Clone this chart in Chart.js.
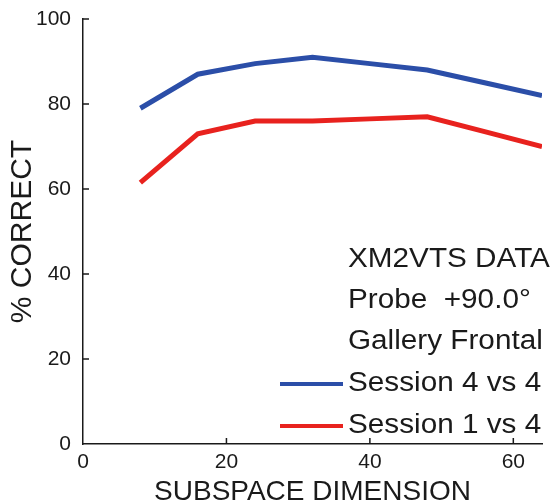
<!DOCTYPE html>
<html>
<head>
<meta charset="utf-8">
<script src="https://cdn.jsdelivr.net/npm/chart.js@4.4.1/dist/chart.umd.min.js"></script>
<style>
  html, body { margin: 0; padding: 0; background: #fff; }
</style>
</head>
<body>
<canvas id="chart" width="552" height="503"></canvas>
<script>
// subspace dimension on x, % correct on y
const dims = [8, 16, 24, 32, 40, 48, 56, 64]
const session44 = [79, 87, 89.5, 91, 89.5, 88, 85, 82]
const session14 = [61.5, 73, 76, 76, 76.5, 77, 73.5, 70]
const xTicks = [0, 20, 40, 60]
const yTicks = [0, 20, 40, 60, 80, 100]
const noteLines = ["XM2VTS DATA", "Probe  +90.0\u00B0", "Gallery Frontal"]
const seriesNames = ["Session 4 vs 4", "Session 1 vs 4"]

const BLUE = "#2b4ea8"
const RED = "#e8221e"
const INK = "#1a1a1a"
const FONT = "'Liberation Sans', Arial, sans-serif"

const toPoints = (ys) => dims.map((d, i) => ({ x: d, y: ys[i] }))

// inward tick marks, text block and legend lines in the lower right
const overlay = {
  id: "overlay",
  afterDraw(chart) {
    const { ctx, scales: { x, y } } = chart
    const x0 = x.getPixelForValue(0)
    const y0 = y.getPixelForValue(0)
    ctx.save()
    ctx.strokeStyle = INK
    ctx.lineWidth = 1.5
    ctx.beginPath()
    yTicks.slice(1).forEach(v => {
      const py = y.getPixelForValue(v)
      ctx.moveTo(x0, py)
      ctx.lineTo(x0 + 6, py)
    })
    xTicks.slice(1).forEach(v => {
      const px = x.getPixelForValue(v)
      ctx.moveTo(px, y0)
      ctx.lineTo(px, y0 - 6)
    })
    ctx.stroke()

    const textX = 348
    const rowY = [260, 301, 342, 384, 426]
    const lines = noteLines.concat(seriesNames)
    ctx.fillStyle = INK
    ctx.font = "27px " + FONT
    ctx.textBaseline = "middle"
    ctx.textAlign = "left"
    lines.forEach((t, i) => {
      ctx.save()
      ctx.translate(textX, rowY[i])
      ctx.scale(1.1, 1)
      ctx.fillText(t, 0, 0)
      ctx.restore()
    })

    ctx.lineWidth = 4
    ;[BLUE, RED].forEach((c, i) => {
      ctx.strokeStyle = c
      ctx.beginPath()
      ctx.moveTo(280, rowY[3 + i])
      ctx.lineTo(343, rowY[3 + i])
      ctx.stroke()
    })
    ctx.restore()
  }
}

new Chart(document.getElementById("chart"), {
  type: "line",
  data: {
    datasets: [
      { label: seriesNames[0], data: toPoints(session44), borderColor: BLUE, borderWidth: 5 },
      { label: seriesNames[1], data: toPoints(session14), borderColor: RED, borderWidth: 5 }
    ]
  },
  options: {
    responsive: false,
    animation: false,
    layout: { padding: { top: 19, right: 10, left: 0, bottom: 0 } },
    elements: { point: { radius: 0 }, line: { tension: 0 } },
    plugins: { legend: { display: false }, tooltip: { enabled: false } },
    scales: {
      x: {
        type: "linear",
        min: 0,
        max: 64,
        afterBuildTicks: s => { s.ticks = xTicks.map(v => ({ value: v })) },
        afterFit: s => { s.height = 59; s.paddingLeft = 0; s.paddingRight = 0 },
        grid: { display: false, drawTicks: false },
        border: { display: true, color: INK, width: 1.5 },
        ticks: { color: INK, font: { family: FONT, size: 21 }, padding: 6, maxRotation: 0 },
        title: {
          display: true,
          text: "SUBSPACE DIMENSION",
          color: INK,
          font: { family: FONT, size: 28, lineHeight: 1 },
          padding: { top: 0, bottom: -3 }
        }
      },
      y: {
        min: 0,
        max: 100,
        afterBuildTicks: s => { s.ticks = yTicks.map(v => ({ value: v })) },
        afterFit: s => { s.width = 83; s.paddingTop = 0; s.paddingBottom = 0 },
        grid: { display: false, drawTicks: false },
        border: { display: true, color: INK, width: 1.5 },
        ticks: { color: INK, font: { family: FONT, size: 21 }, padding: 12 },
        title: {
          display: true,
          text: "% CORRECT",
          color: INK,
          font: { family: FONT, size: 30, lineHeight: 1.1 },
          padding: { top: 6, bottom: 0 }
        }
      }
    }
  },
  plugins: [overlay]
})
</script>
</body>
</html>
